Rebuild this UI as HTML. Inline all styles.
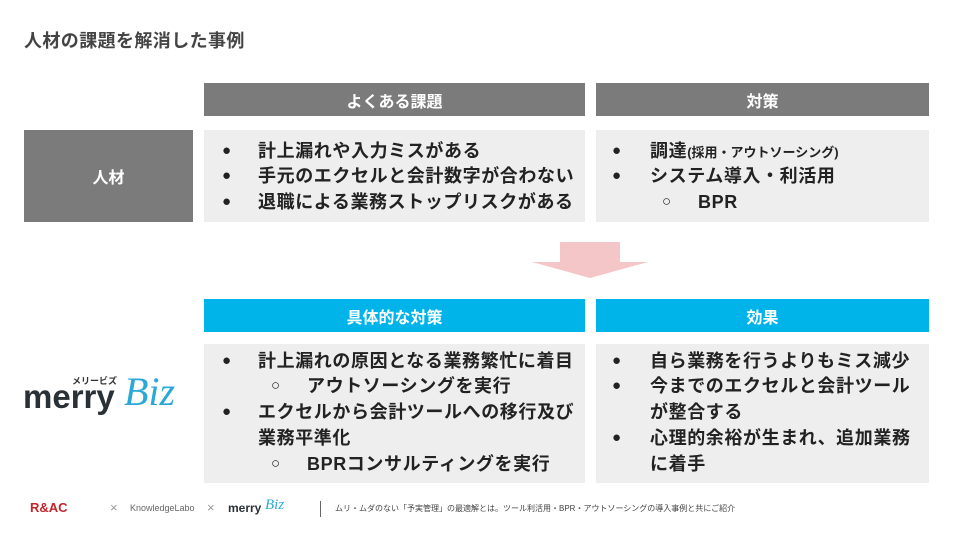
<!DOCTYPE html>
<html><head><meta charset="utf-8"><style>
body{margin:0;width:960px;height:540px;background:#fff;position:relative;overflow:hidden;font-family:"Liberation Sans","Noto Sans CJK JP",sans-serif;color:#222}
.a{position:absolute}
.h{position:absolute;color:#fff;font-weight:bold;font-size:16px;display:flex;align-items:center;justify-content:center}
.g{background:#7b7b7b}.c{background:#00b4ea}
.box{position:absolute;background:#eeeeee}
.l{position:absolute;font-size:18px;font-weight:bold;white-space:nowrap;line-height:20px;letter-spacing:0.6px}
.b{position:absolute;font-size:15px;line-height:20px}
</style></head><body>
<div class="a" style="left:24px;top:27px;font-size:18px;font-weight:bold;color:#444;letter-spacing:0.4px">人材の課題を解消した事例</div>

<div class="h g" style="left:204px;top:83px;width:381px;height:33px">よくある課題</div>
<div class="h g" style="left:596px;top:83px;width:333px;height:33px">対策</div>
<div class="h g" style="left:24px;top:130px;width:169px;height:92px">人材</div>
<div class="box" style="left:204px;top:130px;width:381px;height:92px"></div>
<div class="box" style="left:596px;top:130px;width:333px;height:92px"></div>

<div class="b" style="left:222px;top:141px">●</div><div class="l" style="left:258px;top:141px">計上漏れや入力ミスがある</div>
<div class="b" style="left:222px;top:166px">●</div><div class="l" style="left:258px;top:166px">手元のエクセルと会計数字が合わない</div>
<div class="b" style="left:222px;top:192px">●</div><div class="l" style="left:258px;top:192px">退職による業務ストップリスクがある</div>

<div class="b" style="left:612px;top:141px">●</div><div class="l" style="left:650px;top:141px">調達<span style="font-size:13px;letter-spacing:0">(採用・アウトソーシング)</span></div>
<div class="b" style="left:612px;top:166px">●</div><div class="l" style="left:650px;top:166px">システム導入・利活用</div>
<div class="b" style="left:662px;top:192px">○</div><div class="l" style="left:698px;top:192px">BPR</div>

<svg class="a" style="left:0;top:0" width="960" height="540"><polygon points="560,242 620,242 620,262 648,262 590,278 532,262 560,262" fill="#f4c6c8"/></svg>

<div class="h c" style="left:204px;top:299px;width:381px;height:33px">具体的な対策</div>
<div class="h c" style="left:596px;top:299px;width:333px;height:33px">効果</div>
<div class="box" style="left:204px;top:344px;width:381px;height:139px"></div>
<div class="box" style="left:596px;top:344px;width:333px;height:139px"></div>

<div class="b" style="left:222px;top:351px">●</div><div class="l" style="left:258px;top:351px">計上漏れの原因となる業務繁忙に着目</div>
<div class="b" style="left:271px;top:376px">○</div><div class="l" style="left:307px;top:376px">アウトソーシングを実行</div>
<div class="b" style="left:222px;top:402px">●</div><div class="l" style="left:258px;top:402px">エクセルから会計ツールへの移行及び</div>
<div class="l" style="left:258px;top:428px">業務平準化</div>
<div class="b" style="left:271px;top:454px">○</div><div class="l" style="left:307px;top:454px">BPRコンサルティングを実行</div>

<div class="b" style="left:612px;top:351px">●</div><div class="l" style="left:650px;top:351px">自ら業務を行うよりもミス減少</div>
<div class="b" style="left:612px;top:376px">●</div><div class="l" style="left:650px;top:376px">今までのエクセルと会計ツール</div>
<div class="l" style="left:650px;top:402px">が整合する</div>
<div class="b" style="left:612px;top:428px">●</div><div class="l" style="left:650px;top:428px">心理的余裕が生まれ、追加業務</div>
<div class="l" style="left:650px;top:454px">に着手</div>

<div class="a" style="left:72px;top:374px;font-size:9px;font-weight:bold;color:#333">メリービズ</div>
<div class="a" style="left:23px;top:379px;font-size:33px;font-weight:bold;color:#2a3136;letter-spacing:0px;line-height:36px">merry</div>
<div class="a" style="left:124px;top:370px;font-size:40px;font-style:italic;color:#2ba8d8;font-family:'Liberation Serif',serif;line-height:44px">Biz</div>

<div class="a" style="left:30px;top:500px;font-size:13px;font-weight:bold;color:#c0272d">R&amp;AC</div>
<div class="a" style="left:110px;top:500px;font-size:13px;color:#999">×</div>
<div class="a" style="left:130px;top:503px;font-size:9px;color:#666">KnowledgeLabo</div>
<div class="a" style="left:207px;top:500px;font-size:13px;color:#999">×</div>
<div class="a" style="left:228px;top:501px;font-size:12px;font-weight:bold;color:#2a3136">merry</div>
<div class="a" style="left:265px;top:497px;font-size:15px;font-style:italic;color:#2ba8d8;font-family:'Liberation Serif',serif">Biz</div>
<div class="a" style="left:320px;top:501px;width:1px;height:16px;background:#666"></div>
<div class="a" style="left:335px;top:503px;font-size:8px;color:#444;white-space:nowrap">ムリ・ムダのない「予実管理」の最適解とは。ツール利活用・BPR・アウトソーシングの導入事例と共にご紹介</div>
</body></html>
